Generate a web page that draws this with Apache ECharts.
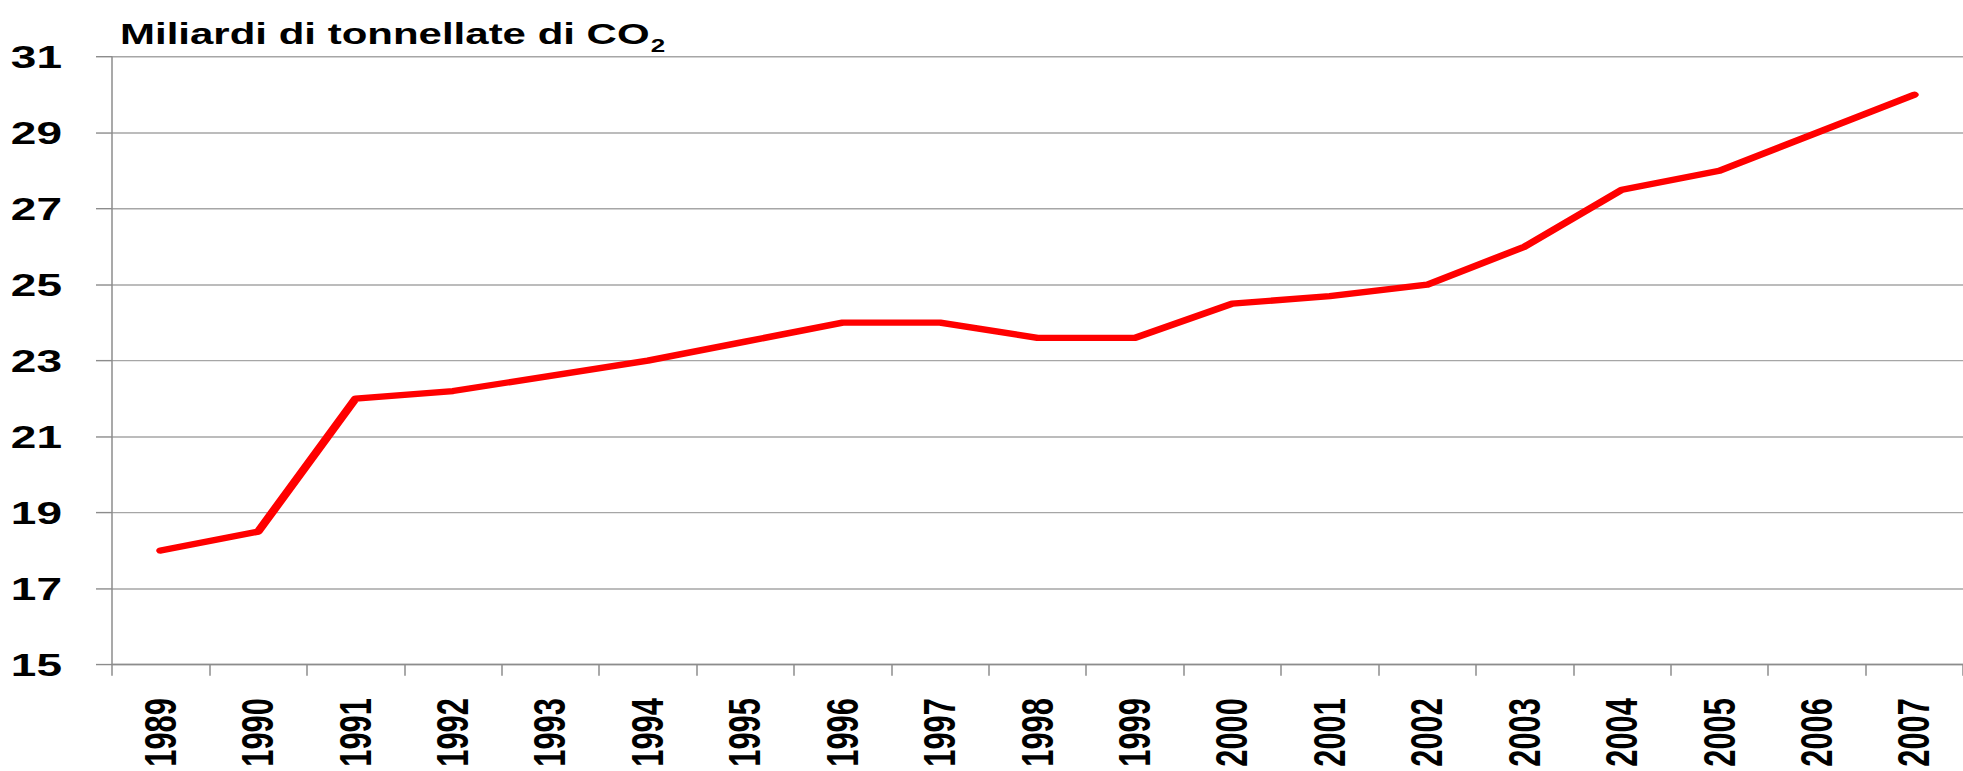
<!DOCTYPE html>
<html>
<head>
<meta charset="utf-8">
<script src="https://cdn.jsdelivr.net/npm/echarts@6/dist/echarts.min.js"></script>
<style>
html,body{margin:0;padding:0;background:#fff;width:1963px;height:771px;overflow:hidden;}
#chart{width:1963px;height:1101px;transform:scaleY(0.70027);transform-origin:0 0;}
</style>
</head>
<body>
<div id="chart"></div>
<script>
const years = ['1989','1990','1991','1992','1993','1994','1995','1996','1997','1998','1999','2000','2001','2002','2003','2004','2005','2006','2007'];
const emissions = [18.0,18.5,22.0,22.2,22.6,23.0,23.5,24.0,24.0,23.6,23.6,24.5,24.7,25.0,26.0,27.5,28.0,29.0,30.0];
const titleMain = 'Miliardi di tonnellate di CO';
const titleSub = '2';

const chart = echarts.init(document.getElementById('chart'), null, { renderer: 'svg' });
chart.setOption({
  backgroundColor: '#ffffff',
  animation: false,
  title: {
    text: '{m|' + titleMain + '}{s|' + titleSub + '}',
    left: 120,
    top: 22,
    padding: 0,
    textStyle: {
      rich: {
        m: { fontFamily: 'Liberation Sans', fontWeight: 'bold', fontSize: 42, color: '#000', lineHeight: 48, verticalAlign: 'bottom' },
        s: { fontFamily: 'Liberation Sans', fontWeight: 'bold', fontSize: 26, color: '#000', lineHeight: 26, verticalAlign: 'bottom', padding: [0, 0, -9, 1] }
      }
    }
  },
  grid: { left: 112, right: -12, top: 81, bottom: 152, containLabel: false },
  xAxis: {
    type: 'category',
    data: years,
    boundaryGap: true,
    axisLine: { show: true, lineStyle: { color: '#8c8c8c', width: 2 } },
    axisTick: { show: true, alignWithLabel: false, length: 16, lineStyle: { color: '#8c8c8c', width: 1.5 } },
    axisLabel: {
      rotate: 90,
      margin: 48,
      interval: 0,
      fontFamily: 'Liberation Sans',
      fontWeight: 'bold',
      fontSize: 44,
      color: '#000'
    },
    splitLine: { show: false }
  },
  yAxis: {
    type: 'value',
    min: 15,
    max: 31,
    interval: 2,
    axisLine: { show: true, lineStyle: { color: '#8c8c8c', width: 1.5 } },
    axisTick: { show: true, inside: false, length: 16, lineStyle: { color: '#8c8c8c', width: 2 } },
    axisLabel: {
      margin: 50,
      fontFamily: 'Liberation Sans',
      fontWeight: 'bold',
      fontSize: 46,
      color: '#000'
    },
    splitLine: { show: true, lineStyle: { color: '#a6a6a6', width: 2 } }
  },
  series: [{
    type: 'line',
    data: emissions,
    symbol: 'none',
    smooth: false,
    lineStyle: { color: '#ff0000', width: 9, cap: 'round', join: 'round' }
  }]
});
</script>
</body>
</html>
